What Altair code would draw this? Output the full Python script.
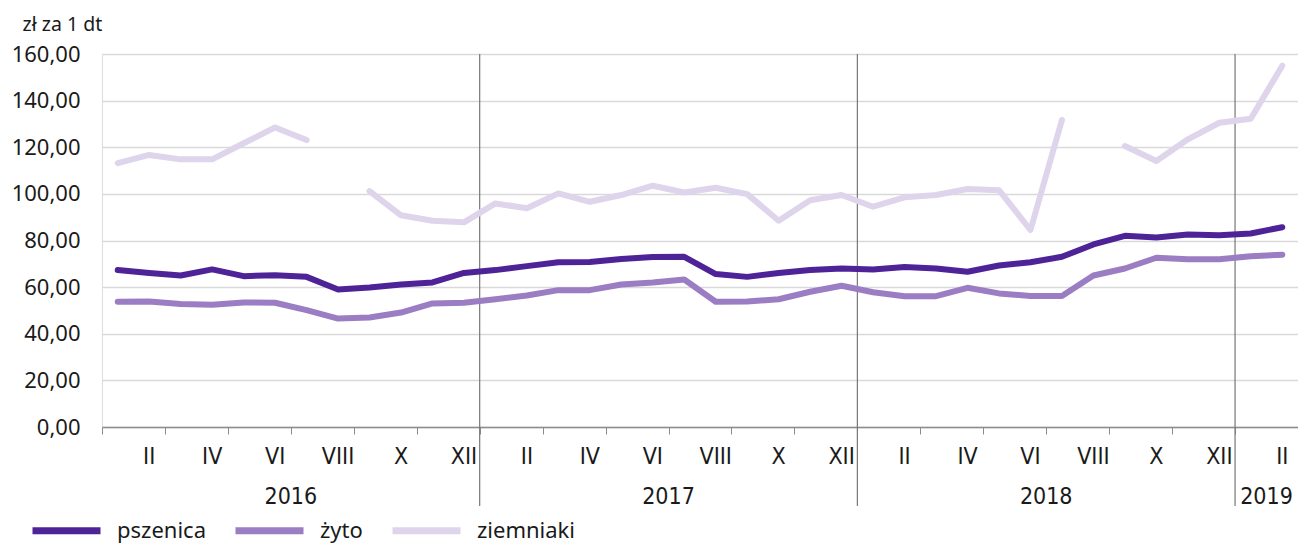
import altair as alt
import pandas as pd

roman = ["I", "II", "III", "IV", "V", "VI", "VII", "VIII", "IX", "X", "XI", "XII"]
years = [2016, 2017, 2018, 2019]
n_months = 38

pszenica = [67.3, 66.1, 65.0, 67.6, 64.7, 65.1, 64.4, 59.0, 59.8, 61.1, 62.0, 66.1,
            67.3, 69.0, 70.7, 70.8, 72.1, 72.9, 73.0, 65.6, 64.4, 66.1, 67.3, 68.0,
            67.6, 68.6, 68.0, 66.6, 69.3, 70.7, 73.0, 78.3, 82.0, 81.3, 82.6, 82.3,
            83.0, 85.7]
zyto = [53.7, 53.8, 52.8, 52.4, 53.4, 53.3, 50.1, 46.5, 47.0, 49.1, 53.0, 53.3,
        54.8, 56.4, 58.7, 58.7, 61.1, 62.0, 63.3, 53.7, 53.8, 54.8, 58.0, 60.6,
        57.8, 56.1, 56.1, 59.7, 57.3, 56.2, 56.2, 65.0, 68.0, 72.6, 72.0, 72.0,
        73.2, 73.9]
ziemniaki = [113.2, 116.7, 114.8, 114.8, 121.7, 128.5, 123.1, None, 101.2, 90.8, 88.5, 87.8,
             95.9, 93.8, 100.2, 96.6, 99.5, 103.5, 100.6, 102.6, 99.9, 88.5, 97.3, 99.5,
             94.5, 98.5, 99.5, 102.1, 101.6, 84.5, 131.7, None, 120.5, 114.1, 123.4, 130.5,
             132.2, 155.0]

series_names = ["pszenica", "żyto", "ziemniaki"]
series_values = [pszenica, zyto, ziemniaki]
colors = ["#4F2398", "#9B7DC3", "#DED4EC"]

rows = []
for name, vals in zip(series_names, series_values):
    for i, v in enumerate(vals):
        rows.append({"x": i + 0.5, "v": v, "s": name, "o": i})
df = pd.DataFrame(rows)

month_rows = []
for i in range(n_months):
    m = i % 12
    if (m + 1) % 2 == 0:
        month_rows.append({"x": i + 0.5, "lab": roman[m]})
month_df = pd.DataFrame(month_rows)

year_rows = []
sep_rows = []
for k, yr in enumerate(years):
    start = k * 12
    end = min(start + 12, n_months)
    year_rows.append({"x": (start + end) / 2, "lab": str(yr)})
    if k > 0:
        sep_rows.append({"x": start})
year_df = pd.DataFrame(year_rows)
sep_df = pd.DataFrame(sep_rows)

FONT = "Noto Sans"
COND = "DejaVu Sans Condensed, Liberation Sans Narrow, Noto Sans, sans-serif"

xscale = alt.Scale(domain=[0, n_months], nice=False, zero=False)
yscale = alt.Scale(domain=[0, 160], nice=False)

lines = alt.Chart(df).mark_line(strokeWidth=6, strokeCap="round", strokeJoin="round").encode(
    x=alt.X("x:Q", scale=xscale,
            axis=alt.Axis(values=list(range(0, n_months + 1)), labels=False, grid=False,
                          tickSize=7, tickColor="#8c8c8c", domainColor="#8c8c8c",
                          tickWidth=1, domainWidth=1.5, title=None)),
    y=alt.Y("v:Q", scale=yscale,
            axis=alt.Axis(values=list(range(0, 161, 20)),
                          labelExpr="replace(format(datum.value, '.2f'), '.', ',')",
                          grid=True, gridColor="#D9D9D9", gridWidth=1.5,
                          domain=False, ticks=False, labelPadding=22,
                          labelFont=FONT, labelFontSize=22, labelColor="#1a1a1a",
                          title="zł za 1 dt", titleAngle=0, titleX=-80, titleY=-24,
                          titleAlign="left", titleBaseline="alphabetic",
                          titleFont=FONT, titleFontSize=19.5, titleFontWeight="normal",
                          titleColor="#1a1a1a")),
    color=alt.Color("s:N", scale=alt.Scale(domain=series_names, range=colors),
                    sort=series_names,
                    legend=alt.Legend(orient="none", direction="horizontal",
                                      legendX=-73, legendY=439, title=None,
                                      symbolType="stroke", symbolSize=4624,
                                      symbolStrokeWidth=7, labelOffset=13,
                                      columnPadding=15, labelFont=FONT,
                                      labelFontSize=22, labelColor="#1a1a1a",
                                      labelLimit=300)),
    order=alt.Order("o:Q"),
)

seps = alt.Chart(sep_df).mark_rule(color="#777777", strokeWidth=1.2).encode(
    x=alt.X("x:Q", scale=xscale),
    y=alt.value(0),
    y2=alt.value(452),
)

months_txt = alt.Chart(month_df).mark_text(
    font=COND, fontSize=23, color="#1a1a1a", baseline="middle", align="center"
).encode(
    x=alt.X("x:Q", scale=xscale),
    y=alt.value(402.7),
    text="lab:N",
)

years_txt = alt.Chart(year_df).mark_text(
    font=COND, fontSize=23, color="#1a1a1a", baseline="middle", align="center"
).encode(
    x=alt.X("x:Q", scale=xscale),
    y=alt.value(443.3),
    text="lab:N",
)

chart = alt.layer(seps, lines, months_txt, years_txt).properties(
    width=1196, height=373,
    autosize=alt.AutoSizeParams(type="none"),
    padding={"left": 94, "top": 46, "right": 0, "bottom": 118},
).configure_view(stroke=None).configure(background="white")

chart.save("out.html", embed_options={"renderer": "svg", "actions": False})
